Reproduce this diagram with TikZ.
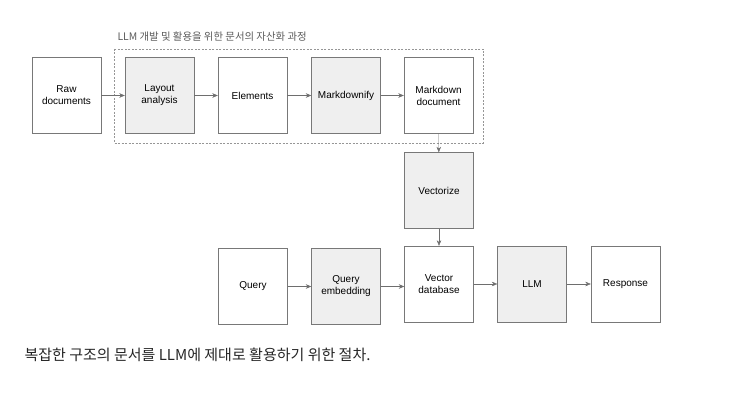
\documentclass[tikz,border=0pt]{standalone}
\usepackage{fontspec}
\setsansfont{Liberation Sans}
\newfontfamily\krfont{Noto Sans CJK KR}
\usepackage{tikz}
\usetikzlibrary{arrows.meta}
\definecolor{BoxLine}{RGB}{120,120,120}
\definecolor{BoxFill}{RGB}{239,239,239}
\definecolor{ArrowLine}{RGB}{110,110,110}
\definecolor{GroupLine}{RGB}{150,150,150}
\definecolor{TitleText}{RGB}{90,90,90}

\begin{document}
\begin{tikzpicture}[x=1pt,y=-1pt,font=\sffamily\fontsize{10}{12}\selectfont,blk/.style={draw=BoxLine,fill=#1,minimum width=69pt,minimum height=76pt,align=center,inner sep=2pt},flow/.style={draw=ArrowLine,-{Stealth[length=5.5pt,width=4.5pt]}}]
\useasboundingbox (0,0) rectangle (731,395);
\draw[GroupLine,dash pattern=on 2pt off 1.5pt] (114,49) rectangle (483,143);
\node[anchor=west,TitleText,font=\krfont\fontsize{10.4}{12}\selectfont](title) at(114,37) {LLM 개발 및 활용을 위한 문서의 자산화 과정};
\foreach \x/\n/\c/\t in %
{66.5/raw/white/{Raw\\documents},159.5/layout/BoxFill/{Layout\\analysis},252.5/elem/white/{Elements},346/mdfy/BoxFill/{Markdownify},438.5/mddoc/white/{Markdown\\document}} {
   \node[blk=\c](\n) at(\x,95.5) {\t};
}
\foreach \x/\y/\n/\c/\t in %
{439/190.5/vec/BoxFill/{Vectorize},253/286.5/query/white/{Query},346/286.5/qemb/BoxFill/{Query\\embedding},439/284/vdb/white/{Vector\\database},532/284/llm/BoxFill/{LLM},625.5/284/resp/white/{Response}} {
   \node[blk=\c](\n) at(\x,\y) {\t};
}
\draw[flow] (raw) -- (layout);
\draw[flow] (layout) -- (elem);
\draw[flow] (elem) -- (mdfy);
\draw[flow] (mdfy) -- (mddoc);
\draw[flow] (mddoc) -- (vec);
\draw[flow] (vec) -- (vdb);
\draw[flow] (query) -- (qemb);
\draw[flow] (qemb.east) -- (qemb.east -| vdb.west);
\draw[flow] (vdb) -- (llm);
\draw[flow] (llm) -- (resp);
\node[anchor=west,text=black!85,font=\krfont\fontsize{15}{18}\selectfont](caption) at(21,355) {복잡한 구조의 문서를 LLM에 제대로 활용하기 위한 절차.};
\end{tikzpicture}
\end{document}
